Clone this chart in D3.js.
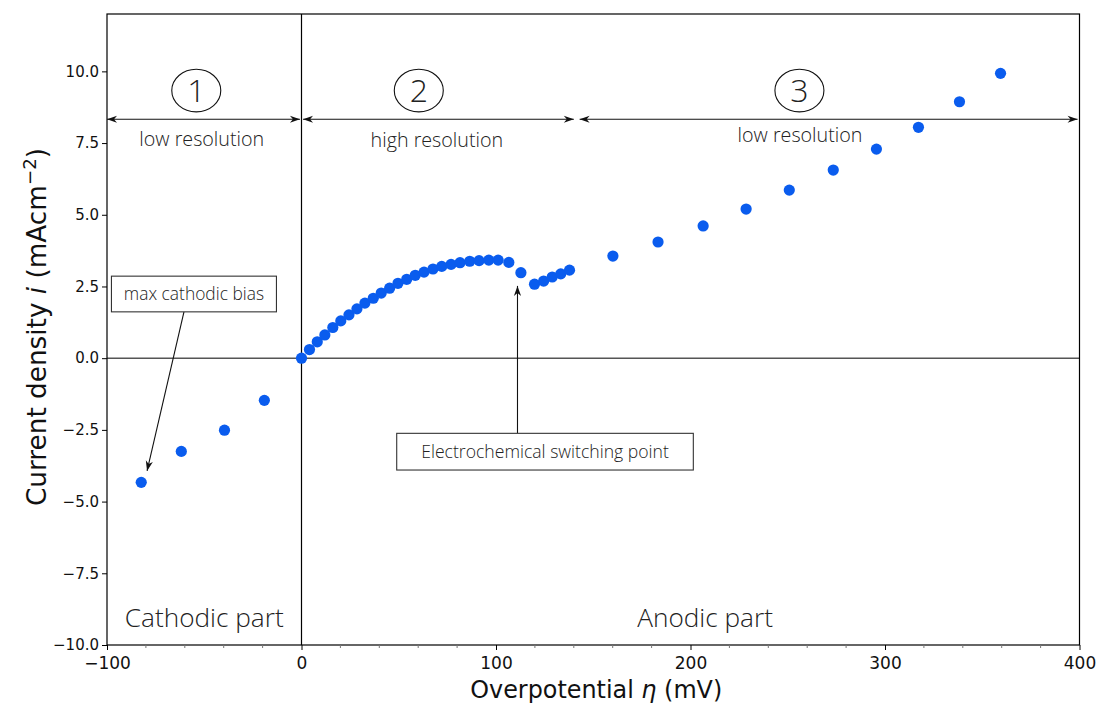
<!DOCTYPE html>
<html>
<head>
<meta charset="utf-8">
<script src="https://cdn.jsdelivr.net/npm/d3@7"></script>
<style>
  html, body { margin: 0; padding: 0; background: #fff; }
  svg { display: block; }
</style>
</head>
<body>
<svg id="chart" width="1099" height="706"></svg>
<script>
// Polarisation data: overpotential η (mV) and current density i (mA cm^-2)
const cathodicEta = [-82.4, -61.8, -39.6, -19.1];
const cathodicI   = [-4.33, -3.25, -2.51, -1.47];

const highResEta = [0, 4.1, 8.1, 12.0, 16.1, 20.2, 24.4, 28.5, 32.6, 36.9, 41.0, 45.3, 49.6,
                    54.1, 58.5, 63.0, 67.6, 72.1, 76.9, 81.5, 86.5, 91.3, 96.3, 101.1, 106.6,
                    112.8, 119.8, 124.5, 128.9, 133.3, 137.8];
const highResI   = [0, 0.30, 0.57, 0.81, 1.07, 1.30, 1.51, 1.72, 1.92, 2.09, 2.27, 2.44, 2.61,
                    2.75, 2.89, 3.00, 3.11, 3.20, 3.27, 3.33, 3.38, 3.40, 3.42, 3.42, 3.34,
                    2.98, 2.58, 2.69, 2.83, 2.94, 3.07];

const lowResEta = [160.1, 183.3, 206.5, 228.6, 250.8, 273.4, 295.6, 317.2, 338.3, 359.4];
const lowResI   = [3.56, 4.05, 4.61, 5.20, 5.86, 6.56, 7.29, 8.05, 8.94, 9.93];

const xTicks = [-100, 0, 100, 200, 300, 400];
const yTicks = [-10, -7.5, -5, -2.5, 0, 2.5, 5, 7.5, 10];

// Measurement regions along the η axis
const regionNames  = ["1", "2", "3"];
const regionLabels = ["low resolution", "high resolution", "low resolution"];
const regionFrom   = [-100, 0.8, 143];
const regionTo     = [-0.8, 140, 399];

const svg = d3.select("#chart");
const L = 107, R = 1079.5, T = 14, B = 645;

const x = d3.scaleLinear().domain([-100, 400]).range([L, R]);
const y = d3.scaleLinear().domain([-10, 12]).range([B, T]);

const annFont = "'Open Sans', 'Noto Sans', sans-serif";
const ink = "#222";

// arrow heads
const defs = svg.append("defs");
defs.append("marker")
  .attr("id", "head")
  .attr("viewBox", "-11 -5 12 10")
  .attr("refX", 0).attr("refY", 0)
  .attr("markerWidth", 12).attr("markerHeight", 10)
  .attr("markerUnits", "userSpaceOnUse")
  .attr("orient", "auto-start-reverse")
  .append("path")
  .attr("d", "M0,0 L-10,-3.6 L-7,0 L-10,3.6 Z")
  .attr("fill", "#111");

// reference lines through the origin
svg.append("line")
  .attr("x1", L).attr("x2", R).attr("y1", y(0)).attr("y2", y(0))
  .attr("stroke", "#555").attr("stroke-width", 1.6);
svg.append("line")
  .attr("x1", x(0)).attr("x2", x(0)).attr("y1", T).attr("y2", B)
  .attr("stroke", "#000").attr("stroke-width", 1.2);

// data points
const points = []
  .concat(cathodicEta.map((e, i) => ({ eta: e, cur: cathodicI[i] })))
  .concat(highResEta.map((e, i) => ({ eta: e, cur: highResI[i] })))
  .concat(lowResEta.map((e, i) => ({ eta: e, cur: lowResI[i] })));

svg.append("g").selectAll("circle")
  .data(points).join("circle")
  .attr("cx", d => x(d.eta))
  .attr("cy", d => y(d.cur))
  .attr("r", 5.6)
  .attr("fill", "#0a5cee");

// frame
svg.append("rect")
  .attr("x", L).attr("y", T).attr("width", R - L).attr("height", B - T)
  .attr("fill", "none").attr("stroke", "#000").attr("stroke-width", 1.2);

// axes
const yAxis = svg.append("g")
  .attr("transform", `translate(${L},0)`)
  .call(d3.axisLeft(y).tickValues(yTicks).tickFormat(d3.format(".1f")).tickSize(5).tickPadding(3));
yAxis.select(".domain").remove();
yAxis.selectAll("text")
  .attr("font-family", "'DejaVu Sans', sans-serif")
  .attr("font-size", 15).attr("fill", "#111");

const xAxis = svg.append("g")
  .attr("transform", `translate(0,${B})`)
  .call(d3.axisBottom(x).tickValues(xTicks).tickFormat(d3.format("d")).tickSize(5).tickPadding(7));
xAxis.select(".domain").remove();
xAxis.selectAll("text")
  .attr("font-family", "'DejaVu Sans', sans-serif")
  .attr("font-size", 17).attr("fill", "#111");

// minor ticks every 20 mV
const minor = d3.range(-100, 401, 20).filter(v => v % 100 !== 0);
svg.append("g").selectAll("line")
  .data(minor).join("line")
  .attr("x1", d => x(d)).attr("x2", d => x(d))
  .attr("y1", B).attr("y2", B + 3)
  .attr("stroke", "#777").attr("stroke-width", 1);

// axis titles
const xt = svg.append("text")
  .attr("x", (x(-100) + x(400)) / 2 + 3).attr("y", 698)
  .attr("text-anchor", "middle")
  .attr("font-family", "'DejaVu Sans', sans-serif")
  .attr("font-size", 24).attr("fill", "#111")
  .attr("textLength", 252).attr("lengthAdjust", "spacingAndGlyphs");
xt.append("tspan").text("Overpotential ");
xt.append("tspan").attr("font-style", "italic").text("η");
xt.append("tspan").text(" (mV)");

const yt = svg.append("text")
  .attr("transform", "translate(46,327) rotate(-90)")
  .attr("text-anchor", "middle")
  .attr("font-family", "'DejaVu Sans', sans-serif")
  .attr("font-size", 26).attr("fill", "#111")
  .attr("textLength", 358).attr("lengthAdjust", "spacingAndGlyphs");
yt.append("tspan").text("Current density ");
yt.append("tspan").attr("font-style", "italic").text("i");
yt.append("tspan").text(" (mAcm");
yt.append("tspan").attr("dy", -10).attr("font-size", 18).text("−2");
yt.append("tspan").attr("dy", 10).text(")");

// region arrows, numbers and labels
const arrowY = 8.33;
const circleX = [-54.1, 60.3, 256];
const labelX  = [-51.3, 69.6, 256.3];
const labelY  = [7.40, 7.37, 7.54];
regionNames.forEach((name, i) => {
  svg.append("line")
    .attr("x1", x(regionFrom[i])).attr("x2", x(regionTo[i]))
    .attr("y1", y(arrowY)).attr("y2", y(arrowY))
    .attr("stroke", "#111").attr("stroke-width", 1.2)
    .attr("marker-start", "url(#head)").attr("marker-end", "url(#head)");
  svg.append("ellipse")
    .attr("cx", x(circleX[i])).attr("cy", y(9.33))
    .attr("rx", 24.5).attr("ry", 21.3)
    .attr("fill", "none").attr("stroke", "#111").attr("stroke-width", 1.1);
  svg.append("text")
    .attr("x", x(circleX[i])).attr("y", y(9.33)).attr("dy", "0.36em")
    .attr("text-anchor", "middle")
    .attr("font-family", annFont).attr("font-weight", 300)
    .attr("font-size", 32).attr("fill", ink)
    .text(name);
  svg.append("text")
    .attr("x", x(labelX[i])).attr("y", y(labelY[i]))
    .attr("text-anchor", "middle")
    .attr("font-family", annFont).attr("font-weight", 300)
    .attr("font-size", 19.7).attr("fill", ink)
    .text(regionLabels[i]);
});

// boxed call-outs with arrows
function callout(label, cx, top, w, h, size, from, to) {
  svg.append("line")
    .attr("x1", x(from[0])).attr("y1", y(from[1]))
    .attr("x2", x(to[0])).attr("y2", y(to[1]))
    .attr("stroke", "#111").attr("stroke-width", 1.1)
    .attr("marker-end", "url(#head)");
  svg.append("rect")
    .attr("x", x(cx) - w / 2).attr("y", y(top))
    .attr("width", w).attr("height", h)
    .attr("fill", "#fff").attr("stroke", "#333").attr("stroke-width", 1.1);
  svg.append("text")
    .attr("x", x(cx)).attr("y", y(top) + h / 2).attr("dy", "0.35em")
    .attr("text-anchor", "middle")
    .attr("font-family", annFont).attr("font-weight", 300)
    .attr("font-size", size).attr("fill", ink)
    .text(label);
}
callout("max cathodic bias", -55.3, 2.86, 165, 35.7, 17.4, [-60.4, 1.62], [-79.4, -3.93]);
callout("Electrochemical switching point", 125.2, -2.62, 296.6, 36.7, 17.6, [111.05, -2.62], [111.05, 2.52]);

// region names
svg.append("text")
  .attr("x", x(-50)).attr("y", 627)
  .attr("text-anchor", "middle")
  .attr("font-family", annFont).attr("font-weight", 300)
  .attr("font-size", 26.2).attr("fill", ink)
  .text("Cathodic part");
svg.append("text")
  .attr("x", x(207.5)).attr("y", 627)
  .attr("text-anchor", "middle")
  .attr("font-family", annFont).attr("font-weight", 300)
  .attr("font-size", 26.2).attr("fill", ink)
  .text("Anodic part");
</script>
</body>
</html>
